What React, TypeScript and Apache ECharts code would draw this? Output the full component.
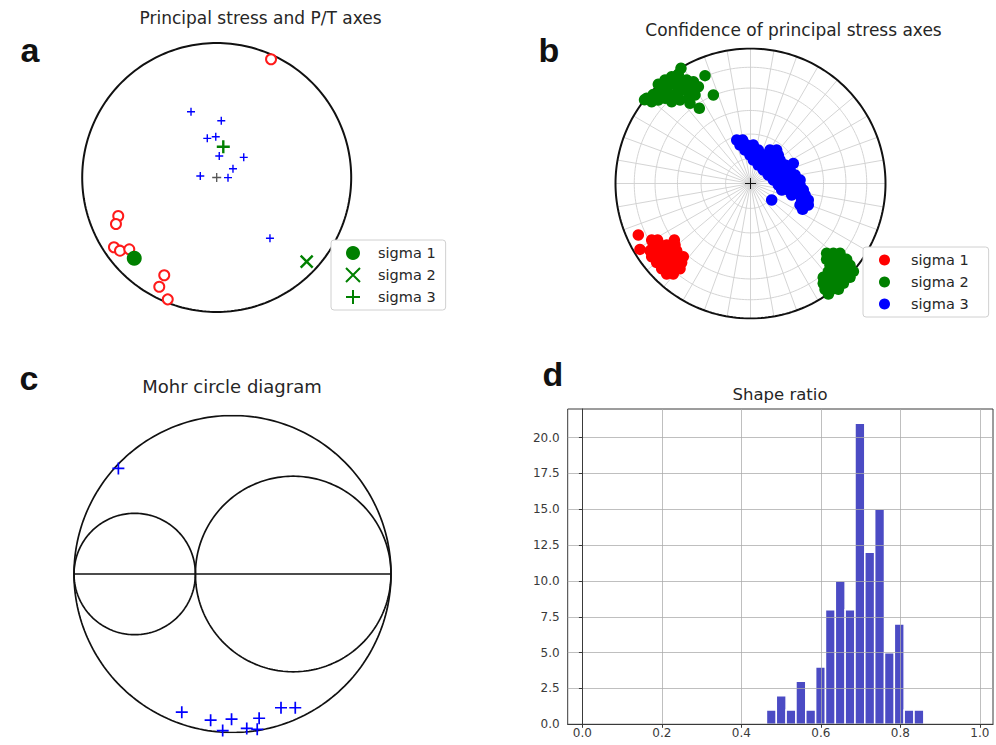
import React, { useEffect, useRef } from 'react';
import * as echarts from 'echarts';

// ---------- Panel a : principal stress and P/T axes (unit stereonet coordinates) ----------
const pAxesA: number[][] = [
  [0.404, 0.879], [-0.732, -0.286], [-0.749, -0.346], [-0.764, -0.519], [-0.719, -0.544],
  [-0.65, -0.534], [-0.39, -0.727], [-0.427, -0.812], [-0.364, -0.906],
];
const tAxesA: number[][] = [
  [-0.191, 0.489], [0.034, 0.422], [-0.07, 0.291], [-0.007, 0.303], [0.019, 0.16],
  [0.201, 0.15], [0.121, 0.065], [-0.122, 0.011], [0.084, -0.001], [0.396, -0.452],
];
const sigma1A: number[][] = [[-0.613, -0.601]];
const sigma2A: number[][] = [[0.669, -0.626]];
const sigma3A: number[][] = [[0.049, 0.229]];
const centerA: number[][] = [[0, 0]];

// ---------- Panel b : confidence of principal stress axes ----------
const sigma1B: number[][] = [
  [-0.831, -0.381], [-0.819, -0.488],
  [-0.732, -0.419], [-0.688, -0.419], [-0.564, -0.419],
  [-0.72, -0.456], [-0.67, -0.456], [-0.621, -0.456], [-0.559, -0.456],
  [-0.744, -0.498], [-0.695, -0.498], [-0.646, -0.498], [-0.596, -0.498], [-0.547, -0.498],
  [-0.732, -0.542], [-0.683, -0.542], [-0.633, -0.542], [-0.584, -0.542], [-0.535, -0.542], [-0.498, -0.542],
  [-0.695, -0.586], [-0.646, -0.586], [-0.596, -0.586], [-0.547, -0.586], [-0.51, -0.586],
  [-0.658, -0.631], [-0.609, -0.631], [-0.559, -0.631], [-0.522, -0.631],
  [-0.621, -0.67], [-0.572, -0.67],
];
const sigma2B: number[][] = [
  // upper-left cluster
  [-0.785, 0.62], [-0.769, 0.631], [-0.72, 0.66], [-0.67, 0.685], [-0.621, 0.71],
  [-0.572, 0.735], [-0.522, 0.754], [-0.473, 0.767], [-0.423, 0.754],
  [-0.683, 0.735], [-0.633, 0.767], [-0.584, 0.791], [-0.535, 0.809],
  [-0.732, 0.606], [-0.683, 0.619], [-0.633, 0.631], [-0.584, 0.656], [-0.535, 0.68],
  [-0.485, 0.693], [-0.436, 0.705], [-0.386, 0.717],
  [-0.584, 0.606], [-0.522, 0.619], [-0.461, 0.631], [-0.411, 0.656],
  [-0.515, 0.853], [-0.337, 0.799], [-0.275, 0.656], [-0.379, 0.557], [-0.448, 0.594],
  // lower-right cluster
  [0.564, -0.517], [0.614, -0.517], [0.663, -0.517],
  [0.564, -0.562], [0.614, -0.562], [0.663, -0.562], [0.712, -0.562],
  [0.589, -0.606], [0.638, -0.606], [0.688, -0.606], [0.737, -0.606],
  [0.577, -0.651], [0.626, -0.651], [0.675, -0.651], [0.725, -0.651], [0.762, -0.651],
  [0.539, -0.695], [0.589, -0.695], [0.638, -0.695], [0.688, -0.695], [0.737, -0.695],
  [0.539, -0.739], [0.589, -0.739], [0.638, -0.739], [0.688, -0.739],
  [0.552, -0.784], [0.601, -0.784], [0.651, -0.784],
  [0.577, -0.819],
];
const sigma3B: number[][] = [
  [-0.102, 0.322], [-0.058, 0.322],
  [-0.078, 0.285], [-0.028, 0.285], [0.021, 0.285],
  [-0.041, 0.248], [0.009, 0.248], [0.058, 0.248], [0.144, 0.248], [0.194, 0.248],
  [-0.004, 0.211], [0.046, 0.211], [0.095, 0.211], [0.144, 0.211], [0.206, 0.211],
  [0.021, 0.174], [0.07, 0.174], [0.12, 0.174], [0.169, 0.174], [0.219, 0.174],
  [0.058, 0.137], [0.107, 0.137], [0.157, 0.137], [0.206, 0.137], [0.256, 0.137], [0.317, 0.149],
  [0.095, 0.1], [0.144, 0.1], [0.194, 0.1], [0.243, 0.1], [0.293, 0.1],
  [0.132, 0.063], [0.181, 0.063], [0.231, 0.063], [0.28, 0.063], [0.33, 0.063],
  [0.169, 0.026], [0.219, 0.026], [0.268, 0.026], [0.317, 0.026], [0.367, 0.026],
  [0.206, -0.011], [0.256, -0.011], [0.305, -0.011], [0.367, -0.011],
  [0.231, -0.048], [0.28, -0.048], [0.33, -0.048], [0.391, -0.048],
  [0.305, -0.085], [0.367, -0.085], [0.404, -0.085],
  [0.157, -0.122], [0.379, -0.122], [0.428, -0.122],
  [0.367, -0.159], [0.428, -0.159],
  [0.386, -0.191],
];
const centerB: number[][] = [[0, 0]];
const netRingRadii: number[] = [0.1846, 0.366, 0.541, 0.707, 0.861];
const netSpokeAngles: number[] = [
  0, 10, 20, 30, 40, 50, 60, 70, 80, 90, 100, 110, 120, 130, 140, 150, 160, 170,
  180, 190, 200, 210, 220, 230, 240, 250, 260, 270, 280, 290, 300, 310, 320, 330, 340, 350,
];

// ---------- Panel c : Mohr circle (normalised principal stresses) ----------
const mohrSigma1 = 1;
const mohrSigma2 = 0.383;
const mohrSigma3 = 0;
const mohrPoints: number[][] = [
  [0.14, 0.333], [0.34, -0.436], [0.431, -0.461], [0.469, -0.494], [0.497, -0.458],
  [0.545, -0.487], [0.578, -0.49], [0.584, -0.455], [0.653, -0.422], [0.698, -0.422],
];

// ---------- Panel d : shape ratio histogram ----------
const binEdges: number[] = [
  0.463, 0.4878, 0.5125, 0.5373, 0.562, 0.5868, 0.6115, 0.6363, 0.661,
  0.6858, 0.7105, 0.7353, 0.76, 0.7848, 0.8095, 0.8343, 0.859,
];
const binCounts: number[] = [1, 2, 1, 3, 1, 4, 8, 10, 8, 21, 12, 15, 5, 7, 1, 1];
const xTickValues: number[] = [0, 0.2, 0.4, 0.6, 0.8, 1.0];
const yTickValues: number[] = [0, 2.5, 5, 7.5, 10, 12.5, 15, 17.5, 20];

const FONT = 'DejaVu Sans';
const PLUS = 'path://M0,5L10,5M5,0L5,10';
const CROSS = 'path://M0,0L10,10M10,0L0,10';

function circlePts(cx: number, cy: number, r: number, n = 240): number[][] {
  const pts: number[][] = [];
  for (let i = 0; i <= n; i++) {
    const t = (i / n) * Math.PI * 2;
    pts.push([cx + r * Math.cos(t), cy + r * Math.sin(t)]);
  }
  return pts;
}

function buildOption(): any {
  const hiddenAxis = (gridIndex: number, min: number, max: number) => ({
    type: 'value', gridIndex, min, max, show: false,
  });

  const titleStyle = (size: number) => ({
    fontFamily: FONT, fontSize: size, fontWeight: 'normal', color: '#262626',
  });

  const letter = (t: string, x: number, y: number) => ({
    type: 'text', x, y, z: 100,
    style: {
      text: t, font: 'bold 34px "Liberation Sans"', fill: '#111',
      textAlign: 'center', textVerticalAlign: 'middle', align: 'center', verticalAlign: 'middle',
    },
  });

  const histData = binCounts.map((c, i) => [binEdges[i], binEdges[i + 1], c]);
  const isTick = (v: number, list: number[]) => list.some((t) => Math.abs(t - v) < 1e-6);

  return {
    animation: false,
    backgroundColor: '#fff',
    title: [
      { text: 'Principal stress and P/T axes', left: 260.5, top: 9, textAlign: 'center', padding: 0, textStyle: titleStyle(17) },
      { text: 'Confidence of principal stress axes', left: 793.5, top: 21, textAlign: 'center', padding: 0, textStyle: titleStyle(17) },
      { text: 'Mohr circle diagram', left: 232, top: 377, textAlign: 'center', padding: 0, textStyle: titleStyle(18) },
      { text: 'Shape ratio', left: 780, top: 386, textAlign: 'center', padding: 0, textStyle: titleStyle(16.5) },
    ],
    graphic: [letter('a', 30, 50), letter('b', 549, 50), letter('c', 29, 378), letter('d', 553, 374)],
    legend: [
      {
        orient: 'vertical', left: 331, top: 240, selectedMode: false,
        data: ['sigma 1', 'sigma 2', 'sigma 3'],
        itemWidth: 14, itemHeight: 14, itemGap: 6,
        padding: [5, 10, 5, 14],
        borderColor: '#d0d0d0', borderWidth: 1, borderRadius: 3, backgroundColor: '#fff',
        textStyle: { fontFamily: FONT, fontSize: 14.5, color: '#262626', lineHeight: 16, padding: [0, 0, 0, 13] },
      },
      {
        orient: 'vertical', left: 863, top: 247, selectedMode: false,
        data: ['sigma 1 (b)', 'sigma 2 (b)', 'sigma 3 (b)'],
        formatter: (name: string) => name.replace(' (b)', ''),
        itemWidth: 11, itemHeight: 11, itemGap: 6,
        padding: [5, 20, 5, 16],
        borderColor: '#d0d0d0', borderWidth: 1, borderRadius: 3, backgroundColor: '#fff',
        textStyle: { fontFamily: FONT, fontSize: 14.5, color: '#262626', lineHeight: 16, padding: [0, 0, 0, 16] },
      },
    ],
    grid: [
      { left: 82.2, top: 43, width: 269, height: 269 },
      { left: 615.5, top: 48.5, width: 270, height: 270 },
      { left: 74, top: 415.5, width: 317, height: 317 },
      { left: 567.7, top: 409, width: 425.3, height: 315.3, show: true, borderColor: '#3a3a3a', borderWidth: 1 },
    ],
    xAxis: [
      hiddenAxis(0, -1, 1),
      hiddenAxis(1, -1, 1),
      hiddenAxis(2, 0, 1),
      {
        type: 'value', gridIndex: 3, min: -0.037, max: 1.033, splitNumber: 5,
        axisLine: { show: true, lineStyle: { color: '#3a3a3a', width: 1 } },
        axisTick: { show: true, length: 3.5, lineStyle: { color: '#3a3a3a' }, customValues: xTickValues },
        axisLabel: {
          customValues: xTickValues, margin: 3, fontFamily: FONT, fontSize: 12, color: '#3a3a3a',
          formatter: (v: number) => (isTick(v, xTickValues) ? v.toFixed(1) : ''),
        },
        splitLine: { show: true, lineStyle: { color: 'rgba(170,170,170,0.75)', width: 1 } },
      },
    ],
    yAxis: [
      hiddenAxis(0, -1, 1),
      hiddenAxis(1, -1, 1),
      hiddenAxis(2, -0.5, 0.5),
      {
        type: 'value', gridIndex: 3, min: 0, max: 22, interval: 2.5,
        axisLine: { show: true, lineStyle: { color: '#3a3a3a', width: 1 } },
        axisTick: { show: true, length: 3.5, lineStyle: { color: '#3a3a3a' }, customValues: yTickValues },
        axisLabel: {
          customValues: yTickValues, margin: 8, fontFamily: FONT, fontSize: 12, color: '#3a3a3a',
          formatter: (v: number) => (isTick(v, yTickValues) ? v.toFixed(1) : ''),
        },
        splitLine: { show: true, lineStyle: { color: 'rgba(170,170,170,0.75)', width: 1 } },
      },
    ],
    series: [
      // ---- panel a ----
      {
        type: 'lines', coordinateSystem: 'cartesian2d', xAxisIndex: 0, yAxisIndex: 0, polyline: true, silent: true,
        data: [{ coords: circlePts(0, 0, 1) }],
        lineStyle: { color: '#111', width: 2, opacity: 1 },
      },
      {
        name: 'P axes', type: 'scatter', xAxisIndex: 0, yAxisIndex: 0, clip: false,
        data: pAxesA, symbol: 'emptyCircle', symbolSize: 10,
        itemStyle: { color: '#ff1a1a', borderColor: '#ff1a1a', borderWidth: 1.3, opacity: 1 },
      },
      {
        name: 'T axes', type: 'scatter', xAxisIndex: 0, yAxisIndex: 0, clip: false,
        data: tAxesA, symbol: PLUS, symbolSize: 8,
        itemStyle: { color: 'rgba(0,0,0,0)', borderColor: '#0000ff', borderWidth: 1.4, opacity: 1 },
      },
      {
        name: 'center a', type: 'scatter', xAxisIndex: 0, yAxisIndex: 0, clip: false,
        data: centerA, symbol: PLUS, symbolSize: 9,
        itemStyle: { color: 'rgba(0,0,0,0)', borderColor: '#555', borderWidth: 1.3, opacity: 1 },
      },
      {
        name: 'sigma 1', type: 'scatter', xAxisIndex: 0, yAxisIndex: 0, clip: false,
        data: sigma1A, symbol: 'circle', symbolSize: 15,
        itemStyle: { color: '#008000', opacity: 1 },
      },
      {
        name: 'sigma 2', type: 'scatter', xAxisIndex: 0, yAxisIndex: 0, clip: false,
        data: sigma2A, symbol: CROSS, symbolSize: 12,
        itemStyle: { color: 'rgba(0,0,0,0)', borderColor: '#008000', borderWidth: 2.4, opacity: 1 },
      },
      {
        name: 'sigma 3', type: 'scatter', xAxisIndex: 0, yAxisIndex: 0, clip: false,
        data: sigma3A, symbol: PLUS, symbolSize: 13,
        itemStyle: { color: 'rgba(0,0,0,0)', borderColor: '#008000', borderWidth: 2.4, opacity: 1 },
      },
      // ---- panel b ----
      {
        type: 'lines', coordinateSystem: 'cartesian2d', xAxisIndex: 1, yAxisIndex: 1, silent: true,
        data: netSpokeAngles.map((a) => ({
          coords: [[0, 0], [Math.cos((a * Math.PI) / 180), Math.sin((a * Math.PI) / 180)]],
        })),
        lineStyle: { color: '#cfcfcf', width: 0.9, opacity: 1 },
      },
      {
        type: 'lines', coordinateSystem: 'cartesian2d', xAxisIndex: 1, yAxisIndex: 1, polyline: true, silent: true,
        data: netRingRadii.map((r) => ({ coords: circlePts(0, 0, r) })),
        lineStyle: { color: '#cfcfcf', width: 0.9, opacity: 1 },
      },
      {
        type: 'lines', coordinateSystem: 'cartesian2d', xAxisIndex: 1, yAxisIndex: 1, polyline: true, silent: true,
        data: [{ coords: circlePts(0, 0, 1) }],
        lineStyle: { color: '#111', width: 2, opacity: 1 },
      },
      {
        name: 'center b', type: 'scatter', xAxisIndex: 1, yAxisIndex: 1, clip: false,
        data: centerB, symbol: PLUS, symbolSize: 11,
        itemStyle: { color: 'rgba(0,0,0,0)', borderColor: '#111', borderWidth: 1, opacity: 1 },
      },
      {
        name: 'sigma 1 (b)', type: 'scatter', xAxisIndex: 1, yAxisIndex: 1, clip: false,
        data: sigma1B, symbol: 'circle', symbolSize: 11.5, itemStyle: { color: '#ff0000', opacity: 1 },
      },
      {
        name: 'sigma 2 (b)', type: 'scatter', xAxisIndex: 1, yAxisIndex: 1, clip: false,
        data: sigma2B, symbol: 'circle', symbolSize: 11.5, itemStyle: { color: '#008000', opacity: 1 },
      },
      {
        name: 'sigma 3 (b)', type: 'scatter', xAxisIndex: 1, yAxisIndex: 1, clip: false,
        data: sigma3B, symbol: 'circle', symbolSize: 11.5, itemStyle: { color: '#0000ff', opacity: 1 },
      },
      // ---- panel c ----
      {
        type: 'lines', coordinateSystem: 'cartesian2d', xAxisIndex: 2, yAxisIndex: 2, polyline: true, silent: true,
        data: [
          { coords: circlePts((mohrSigma1 + mohrSigma3) / 2, 0, (mohrSigma1 - mohrSigma3) / 2) },
          { coords: circlePts((mohrSigma2 + mohrSigma3) / 2, 0, (mohrSigma2 - mohrSigma3) / 2) },
          { coords: circlePts((mohrSigma1 + mohrSigma2) / 2, 0, (mohrSigma1 - mohrSigma2) / 2) },
          { coords: [[mohrSigma3, 0], [mohrSigma1, 0]] },
        ],
        lineStyle: { color: '#111', width: 1.7, opacity: 1 },
      },
      {
        name: 'mohr points', type: 'scatter', xAxisIndex: 2, yAxisIndex: 2, clip: false,
        data: mohrPoints, symbol: PLUS, symbolSize: 12,
        itemStyle: { color: 'rgba(0,0,0,0)', borderColor: '#0000ff', borderWidth: 1.7, opacity: 1 },
      },
      // ---- panel d ----
      {
        name: 'shape ratio', type: 'custom', xAxisIndex: 3, yAxisIndex: 3, z: -1,
        data: histData,
        encode: { x: [0, 1], y: 2 },
        renderItem: (params: any, api: any) => {
          const p0 = api.coord([api.value(0), api.value(2)]);
          const p1 = api.coord([api.value(1), 0]);
          return {
            type: 'rect',
            shape: { x: p0[0], y: p0[1], width: p1[0] - p0[0], height: p1[1] - p0[1] },
            style: { fill: '#4b4bc4', stroke: '#ffffff', lineWidth: 1.5 },
          };
        },
      },
    ],
  };
}

export default function App() {
  const ref = useRef<HTMLDivElement | null>(null);
  useEffect(() => {
    document.body.style.margin = '0';
    if (!ref.current) return;
    const chart = echarts.init(ref.current, undefined, { renderer: 'svg' });
    chart.setOption(buildOption());
    return () => {
      chart.dispose();
    };
  }, []);
  return <div ref={ref} style={{ width: 996, height: 745, background: '#fff' }} />;
}
